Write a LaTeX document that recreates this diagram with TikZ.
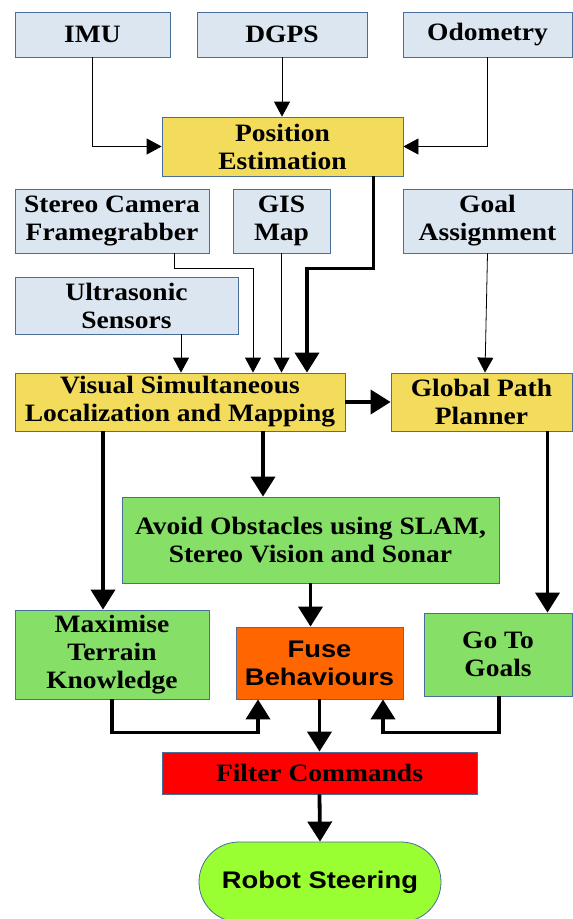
\documentclass[tikz,border=0pt]{standalone}
\usepackage{fontspec}
\usetikzlibrary{arrows.meta,shapes.misc}

\newfontfamily\boxserif[FakeStretch=1.1]{Liberation Serif}
\newfontfamily\boxsans[FakeStretch=1.14]{Liberation Sans}

\definecolor{sensorblue}{HTML}{DCE6F0}
\definecolor{edgeblue}{HTML}{4A6E9A}
\definecolor{stageyellow}{HTML}{F3DC5B}
\definecolor{behavegreen}{HTML}{86E068}
\definecolor{fuseorange}{HTML}{FF6600}
\definecolor{filterred}{HTML}{FF0000}
\definecolor{steerlime}{HTML}{99FF33}

\begin{document}
\begin{tikzpicture}[x=1pt, y=-1pt,
    % Node styles, sizes in pixels of the page
    box/.style={
        draw=edgeblue,
        line width=0.8pt,
        inner sep=0pt,
        align=center,
        font=\boxserif\bfseries\fontsize{25}{28}\selectfont
    },
    sensor/.style={box, fill=sensorblue},      % raw inputs
    stage/.style={box, fill=stageyellow},      % estimation / planning
    behave/.style={box, fill=behavegreen},     % behaviours
    % Arrow styles
    thinarrow/.style={line width=0.8pt, -{Triangle[length=15pt,width=16pt]}},
    thickarrow/.style={line width=3.8pt, -{Triangle[length=20pt,width=24pt]}}
    ]

    \path[use as bounding box, fill=white] (0,0) rectangle (573,919);

    % Top row sensors
    \node[sensor, minimum width=155pt, minimum height=45pt] (imu) at (92.5,34.5) {IMU};
    \node[sensor, minimum width=170pt, minimum height=45pt] (dgps) at (282,34.5) {DGPS};
    \node[sensor, minimum width=169pt, minimum height=45pt] (odo) at (487.5,34.5) {Odometry};

    \node[stage, minimum width=241pt, minimum height=59pt] (pos) at (282.5,146.5) {Position\\Estimation};

    % Second row of inputs
    \node[sensor, minimum width=194pt, minimum height=64pt] (stereo) at (112,221) {Stereo Camera\\Framegrabber};
    \node[sensor, minimum width=97pt, minimum height=64pt] (gis) at (281.5,221) {GIS\\Map};
    \node[sensor, minimum width=169pt, minimum height=64pt] (goal) at (487.5,221) {Goal\\Assignment};
    \node[sensor, minimum width=223pt, minimum height=57pt] (ultra) at (126.5,305.5) {Ultrasonic\\Sensors};

    % SLAM and planner
    \node[stage, minimum width=330pt, minimum height=58pt] (slam) at (180,402) {Visual Simultaneous\\Localization and Mapping};
    \node[stage, minimum width=181pt, minimum height=58pt] (gpp) at (481.5,402) {Global Path\\Planner};

    % Behaviours
    \node[behave, minimum width=377pt, minimum height=86pt] (avoid) at (310.5,540) {Avoid Obstacles using SLAM,\\Stereo Vision and Sonar};
    \node[behave, minimum width=194pt, minimum height=89pt] (maxim) at (112,654.5) {Maximise\\Terrain\\Knowledge};
    \node[box, fill=fuseorange, minimum width=167pt, minimum height=72pt,
        font=\boxsans\bfseries\fontsize{24}{28}\selectfont] (fuse) at (319.5,663) {Fuse\\Behaviours};
    \node[behave, minimum width=148pt, minimum height=83pt] (goto) at (498,654.5) {Go To\\Goals};

    % Output
    \node[box, fill=filterred, minimum width=315pt, minimum height=42pt] (filter) at (319.5,773) {Filter Commands};
    \node[box, rounded rectangle, fill=steerlime, minimum width=242pt, minimum height=80pt,
        font=\boxsans\bfseries\fontsize{24}{28}\selectfont] (robot) at (320,882) {Robot Steering};

    % Sensors into position estimation
    \draw[thinarrow] (imu.south) |- (pos.west);
    \draw[thinarrow] (dgps.south) -- (dgps.south |- pos.north);
    \draw[thinarrow] (odo.south) |- (pos.east);

    % Inputs into SLAM
    \draw[thickarrow] ([xshift=91pt]pos.south) -- ++(0,92) -| ([xshift=127pt]slam.north);
    \draw[thinarrow] ([xshift=62pt]stereo.south) -- ++(0,15) -| ([xshift=73pt]slam.north);
    \draw[thinarrow] (gis.south) -- (gis.south |- slam.north);
    \draw[thinarrow] ([xshift=54.5pt]ultra.south) -- ([xshift=54.5pt]ultra.south |- slam.north);
    \draw[thinarrow] (goal.south) -- ([xshift=3.5pt]gpp.north);

    % SLAM outputs
    \draw[thickarrow] (slam.east) -- (gpp.west);
    \draw[thickarrow] ([xshift=-77pt]slam.south) -- ([xshift=-77pt]slam.south |- maxim.north);
    \draw[thickarrow] ([xshift=83pt]slam.south) -- ([xshift=83pt]slam.south |- avoid.north);
    \draw[thickarrow] ([xshift=66pt]gpp.south) -- ([xshift=66pt]gpp.south |- goto.north);

    % Behaviours into fusion
    \draw[thickarrow] (avoid.south) -- (avoid.south |- fuse.north);
    \draw[thickarrow] (maxim.south) -- ++(0,33) -| ([xshift=-61.5pt]fuse.south);
    \draw[thickarrow] ([xshift=1pt]goto.south) -- ++(0,36) -| ([xshift=63.5pt]fuse.south);

    % Down to the robot
    \draw[thickarrow] (fuse.south) -- (filter.north);
    \draw[thickarrow] (filter.south) -- (robot.north);

\end{tikzpicture}
\end{document}
